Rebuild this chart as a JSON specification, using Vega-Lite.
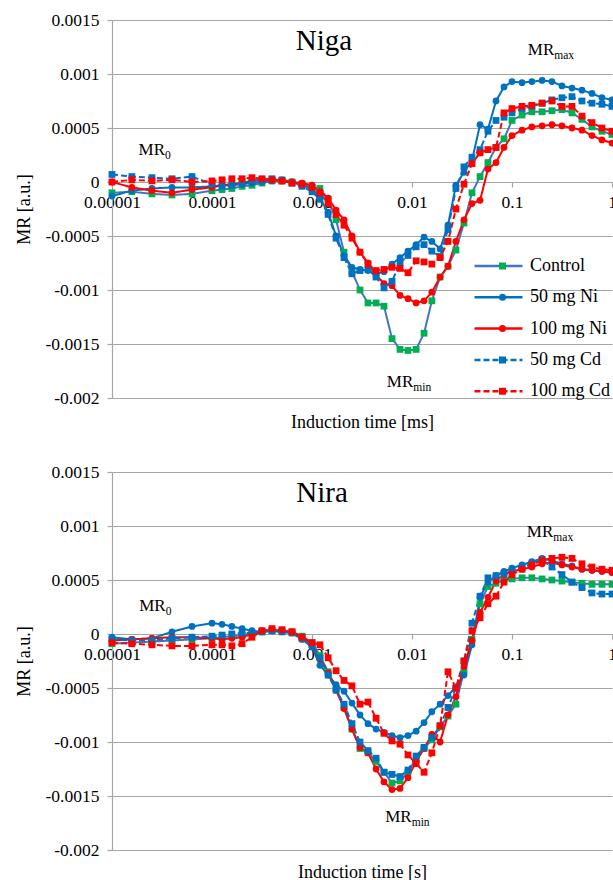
{
  "$schema": "https://vega.github.io/schema/vega-lite/v6.json",
  "background": "white",
  "padding": {"left": 15, "top": 11, "right": 0, "bottom": 0},
  "config": {
    "font": "Liberation Serif",
    "view": {"stroke": null},
    "axis": {
      "labelFont": "Liberation Serif", "labelFontSize": 17.5, "labelColor": "#000000",
      "titleFont": "Liberation Serif", "titleFontSize": 18, "titleFontWeight": "normal", "titleColor": "#000000",
      "domainColor": "#a6a6a6", "domainWidth": 1.2, "tickColor": "#a6a6a6", "tickWidth": 1.2, "tickSize": 5,
      "gridColor": "#a6a6a6", "gridWidth": 1.2, "labelFlush": false, "labelOverlap": false
    },
    "legend": {"labelFont": "Liberation Serif"}
  },
  "datasets": {
    "niga": [
      {"series":"Control","time":0.00001,"mr":-0.0001},{"series":"Control","time":0.0000158,"mr":-0.00009},{"series":"Control","time":0.0000251,"mr":-0.00011},{"series":"Control","time":0.0000398,"mr":-0.00012},{"series":"Control","time":0.0000631,"mr":-0.00011},{"series":"Control","time":0.0001,"mr":-0.00008},{"series":"Control","time":0.000126,"mr":-0.00007},{"series":"Control","time":0.000158,"mr":-0.00006},{"series":"Control","time":0.0002,"mr":-0.00004},{"series":"Control","time":0.000251,"mr":-0.00003},{"series":"Control","time":0.000316,"mr":-0.00001},{"series":"Control","time":0.000398,"mr":0.00001},{"series":"Control","time":0.000501,"mr":0.00002},{"series":"Control","time":0.000631,"mr":0},{"series":"Control","time":0.000794,"mr":-0.00002},{"series":"Control","time":0.001,"mr":-0.00005},{"series":"Control","time":0.0012,"mr":-0.00006},{"series":"Control","time":0.00145,"mr":-0.00016},{"series":"Control","time":0.00174,"mr":-0.00035},{"series":"Control","time":0.00209,"mr":-0.00065},{"series":"Control","time":0.00251,"mr":-0.00083},{"series":"Control","time":0.00302,"mr":-0.001},{"series":"Control","time":0.00363,"mr":-0.00112},{"series":"Control","time":0.00437,"mr":-0.00112},{"series":"Control","time":0.00525,"mr":-0.00115},{"series":"Control","time":0.00631,"mr":-0.00145},{"series":"Control","time":0.00759,"mr":-0.00155},{"series":"Control","time":0.00912,"mr":-0.00156},{"series":"Control","time":0.011,"mr":-0.00155},{"series":"Control","time":0.0132,"mr":-0.0014},{"series":"Control","time":0.0158,"mr":-0.0011},{"series":"Control","time":0.0191,"mr":-0.00088},{"series":"Control","time":0.0229,"mr":-0.00078},{"series":"Control","time":0.0275,"mr":-0.00063},{"series":"Control","time":0.0331,"mr":-0.00038},{"series":"Control","time":0.0398,"mr":-0.0001},{"series":"Control","time":0.0479,"mr":0.00005},{"series":"Control","time":0.0575,"mr":0.00018},{"series":"Control","time":0.0692,"mr":0.00032},{"series":"Control","time":0.0832,"mr":0.0004},{"series":"Control","time":0.1,"mr":0.00057},{"series":"Control","time":0.126,"mr":0.00062},{"series":"Control","time":0.158,"mr":0.00065},{"series":"Control","time":0.2,"mr":0.00065},{"series":"Control","time":0.251,"mr":0.00066},{"series":"Control","time":0.316,"mr":0.00067},{"series":"Control","time":0.398,"mr":0.00064},{"series":"Control","time":0.501,"mr":0.00058},{"series":"Control","time":0.631,"mr":0.00051},{"series":"Control","time":0.794,"mr":0.00047},{"series":"Control","time":1,"mr":0.00044},
      {"series":"50 mg Ni","time":0.00001,"mr":-0.00013},{"series":"50 mg Ni","time":0.0000158,"mr":-0.00008},{"series":"50 mg Ni","time":0.0000251,"mr":-0.00006},{"series":"50 mg Ni","time":0.0000398,"mr":-0.00005},{"series":"50 mg Ni","time":0.0000631,"mr":-0.00005},{"series":"50 mg Ni","time":0.0001,"mr":-0.00004},{"series":"50 mg Ni","time":0.000126,"mr":-0.00003},{"series":"50 mg Ni","time":0.000158,"mr":-0.00003},{"series":"50 mg Ni","time":0.0002,"mr":-0.00002},{"series":"50 mg Ni","time":0.000251,"mr":-0.00001},{"series":"50 mg Ni","time":0.000316,"mr":0},{"series":"50 mg Ni","time":0.000398,"mr":0.00001},{"series":"50 mg Ni","time":0.000501,"mr":0.00002},{"series":"50 mg Ni","time":0.000631,"mr":0},{"series":"50 mg Ni","time":0.000794,"mr":-0.00003},{"series":"50 mg Ni","time":0.001,"mr":-0.00006},{"series":"50 mg Ni","time":0.0012,"mr":-0.00015},{"series":"50 mg Ni","time":0.00145,"mr":-0.00028},{"series":"50 mg Ni","time":0.00174,"mr":-0.0005},{"series":"50 mg Ni","time":0.00209,"mr":-0.00068},{"series":"50 mg Ni","time":0.00251,"mr":-0.00079},{"series":"50 mg Ni","time":0.00302,"mr":-0.00081},{"series":"50 mg Ni","time":0.00363,"mr":-0.00082},{"series":"50 mg Ni","time":0.00437,"mr":-0.00085},{"series":"50 mg Ni","time":0.00525,"mr":-0.00083},{"series":"50 mg Ni","time":0.00631,"mr":-0.00076},{"series":"50 mg Ni","time":0.00759,"mr":-0.0007},{"series":"50 mg Ni","time":0.00912,"mr":-0.00064},{"series":"50 mg Ni","time":0.011,"mr":-0.00058},{"series":"50 mg Ni","time":0.0132,"mr":-0.00051},{"series":"50 mg Ni","time":0.0158,"mr":-0.00055},{"series":"50 mg Ni","time":0.0191,"mr":-0.00062},{"series":"50 mg Ni","time":0.0229,"mr":-0.0004},{"series":"50 mg Ni","time":0.0275,"mr":-0.00003},{"series":"50 mg Ni","time":0.0331,"mr":0.00009},{"series":"50 mg Ni","time":0.0398,"mr":0.0002},{"series":"50 mg Ni","time":0.0479,"mr":0.00053},{"series":"50 mg Ni","time":0.0575,"mr":0.00049},{"series":"50 mg Ni","time":0.0692,"mr":0.00075},{"series":"50 mg Ni","time":0.0832,"mr":0.00088},{"series":"50 mg Ni","time":0.1,"mr":0.00093},{"series":"50 mg Ni","time":0.126,"mr":0.00092},{"series":"50 mg Ni","time":0.158,"mr":0.00093},{"series":"50 mg Ni","time":0.2,"mr":0.00094},{"series":"50 mg Ni","time":0.251,"mr":0.00093},{"series":"50 mg Ni","time":0.316,"mr":0.00089},{"series":"50 mg Ni","time":0.398,"mr":0.00087},{"series":"50 mg Ni","time":0.501,"mr":0.00085},{"series":"50 mg Ni","time":0.631,"mr":0.00082},{"series":"50 mg Ni","time":0.794,"mr":0.00078},{"series":"50 mg Ni","time":1,"mr":0.00076},
      {"series":"100 mg Ni","time":0.00001,"mr":0},{"series":"100 mg Ni","time":0.0000158,"mr":-0.00005},{"series":"100 mg Ni","time":0.0000251,"mr":-0.00008},{"series":"100 mg Ni","time":0.0000398,"mr":-0.0001},{"series":"100 mg Ni","time":0.0000631,"mr":-0.00007},{"series":"100 mg Ni","time":0.0001,"mr":-0.00005},{"series":"100 mg Ni","time":0.000126,"mr":-0.00003},{"series":"100 mg Ni","time":0.000158,"mr":-0.00002},{"series":"100 mg Ni","time":0.0002,"mr":-0.00001},{"series":"100 mg Ni","time":0.000251,"mr":0.00001},{"series":"100 mg Ni","time":0.000316,"mr":0.00002},{"series":"100 mg Ni","time":0.000398,"mr":0.00002},{"series":"100 mg Ni","time":0.000501,"mr":0.00001},{"series":"100 mg Ni","time":0.000631,"mr":0},{"series":"100 mg Ni","time":0.000794,"mr":-0.00001},{"series":"100 mg Ni","time":0.001,"mr":-0.00003},{"series":"100 mg Ni","time":0.0012,"mr":-0.00009},{"series":"100 mg Ni","time":0.00145,"mr":-0.00015},{"series":"100 mg Ni","time":0.00174,"mr":-0.00026},{"series":"100 mg Ni","time":0.00209,"mr":-0.00035},{"series":"100 mg Ni","time":0.00251,"mr":-0.0005},{"series":"100 mg Ni","time":0.00302,"mr":-0.00065},{"series":"100 mg Ni","time":0.00363,"mr":-0.00075},{"series":"100 mg Ni","time":0.00437,"mr":-0.00086},{"series":"100 mg Ni","time":0.00525,"mr":-0.00094},{"series":"100 mg Ni","time":0.00631,"mr":-0.00096},{"series":"100 mg Ni","time":0.00759,"mr":-0.00105},{"series":"100 mg Ni","time":0.00912,"mr":-0.00108},{"series":"100 mg Ni","time":0.011,"mr":-0.00112},{"series":"100 mg Ni","time":0.0132,"mr":-0.0011},{"series":"100 mg Ni","time":0.0158,"mr":-0.00102},{"series":"100 mg Ni","time":0.0191,"mr":-0.00088},{"series":"100 mg Ni","time":0.0229,"mr":-0.00078},{"series":"100 mg Ni","time":0.0275,"mr":-0.00055},{"series":"100 mg Ni","time":0.0331,"mr":-0.00035},{"series":"100 mg Ni","time":0.0398,"mr":-0.0002},{"series":"100 mg Ni","time":0.0479,"mr":-0.00017},{"series":"100 mg Ni","time":0.0575,"mr":0.00012},{"series":"100 mg Ni","time":0.0692,"mr":0.00018},{"series":"100 mg Ni","time":0.0832,"mr":0.00032},{"series":"100 mg Ni","time":0.1,"mr":0.00043},{"series":"100 mg Ni","time":0.126,"mr":0.00048},{"series":"100 mg Ni","time":0.158,"mr":0.00051},{"series":"100 mg Ni","time":0.2,"mr":0.00052},{"series":"100 mg Ni","time":0.251,"mr":0.00053},{"series":"100 mg Ni","time":0.316,"mr":0.00052},{"series":"100 mg Ni","time":0.398,"mr":0.0005},{"series":"100 mg Ni","time":0.501,"mr":0.00048},{"series":"100 mg Ni","time":0.631,"mr":0.00043},{"series":"100 mg Ni","time":0.794,"mr":0.00039},{"series":"100 mg Ni","time":1,"mr":0.00036},
      {"series":"50 mg Cd","time":0.00001,"mr":0.00007},{"series":"50 mg Cd","time":0.0000158,"mr":0.00005},{"series":"50 mg Cd","time":0.0000251,"mr":0.00004},{"series":"50 mg Cd","time":0.0000398,"mr":0.00003},{"series":"50 mg Cd","time":0.0000631,"mr":0.00005},{"series":"50 mg Cd","time":0.0001,"mr":-0.00002},{"series":"50 mg Cd","time":0.000126,"mr":-0.00004},{"series":"50 mg Cd","time":0.000158,"mr":-0.00003},{"series":"50 mg Cd","time":0.0002,"mr":-0.00001},{"series":"50 mg Cd","time":0.000251,"mr":0.00001},{"series":"50 mg Cd","time":0.000316,"mr":0.00002},{"series":"50 mg Cd","time":0.000398,"mr":0.00003},{"series":"50 mg Cd","time":0.000501,"mr":0.00001},{"series":"50 mg Cd","time":0.000631,"mr":-0.00001},{"series":"50 mg Cd","time":0.000794,"mr":-0.00004},{"series":"50 mg Cd","time":0.001,"mr":-0.00009},{"series":"50 mg Cd","time":0.0012,"mr":-0.00016},{"series":"50 mg Cd","time":0.00145,"mr":-0.0003},{"series":"50 mg Cd","time":0.00174,"mr":-0.00052},{"series":"50 mg Cd","time":0.00209,"mr":-0.0007},{"series":"50 mg Cd","time":0.00251,"mr":-0.00085},{"series":"50 mg Cd","time":0.00302,"mr":-0.00082},{"series":"50 mg Cd","time":0.00363,"mr":-0.00081},{"series":"50 mg Cd","time":0.00437,"mr":-0.00088},{"series":"50 mg Cd","time":0.00525,"mr":-0.00098},{"series":"50 mg Cd","time":0.00631,"mr":-0.00092},{"series":"50 mg Cd","time":0.00759,"mr":-0.00075},{"series":"50 mg Cd","time":0.00912,"mr":-0.00068},{"series":"50 mg Cd","time":0.011,"mr":-0.0006},{"series":"50 mg Cd","time":0.0132,"mr":-0.00058},{"series":"50 mg Cd","time":0.0158,"mr":-0.00064},{"series":"50 mg Cd","time":0.0191,"mr":-0.00069},{"series":"50 mg Cd","time":0.0229,"mr":-0.00044},{"series":"50 mg Cd","time":0.0275,"mr":-0.00006},{"series":"50 mg Cd","time":0.0331,"mr":0.00014},{"series":"50 mg Cd","time":0.0398,"mr":0.00023},{"series":"50 mg Cd","time":0.0479,"mr":0.0003},{"series":"50 mg Cd","time":0.0575,"mr":0.00047},{"series":"50 mg Cd","time":0.0692,"mr":0.00057},{"series":"50 mg Cd","time":0.0832,"mr":0.0006},{"series":"50 mg Cd","time":0.1,"mr":0.00064},{"series":"50 mg Cd","time":0.126,"mr":0.00068},{"series":"50 mg Cd","time":0.158,"mr":0.0007},{"series":"50 mg Cd","time":0.2,"mr":0.00073},{"series":"50 mg Cd","time":0.251,"mr":0.00076},{"series":"50 mg Cd","time":0.316,"mr":0.00078},{"series":"50 mg Cd","time":0.398,"mr":0.00079},{"series":"50 mg Cd","time":0.501,"mr":0.00075},{"series":"50 mg Cd","time":0.631,"mr":0.00073},{"series":"50 mg Cd","time":0.794,"mr":0.00072},{"series":"50 mg Cd","time":1,"mr":0.0007},
      {"series":"100 mg Cd","time":0.00001,"mr":0},{"series":"100 mg Cd","time":0.0000158,"mr":0.00002},{"series":"100 mg Cd","time":0.0000251,"mr":0.00001},{"series":"100 mg Cd","time":0.0000398,"mr":0.00002},{"series":"100 mg Cd","time":0.0000631,"mr":0},{"series":"100 mg Cd","time":0.0001,"mr":0.00001},{"series":"100 mg Cd","time":0.000126,"mr":0.00002},{"series":"100 mg Cd","time":0.000158,"mr":0.00003},{"series":"100 mg Cd","time":0.0002,"mr":0.00003},{"series":"100 mg Cd","time":0.000251,"mr":0.00004},{"series":"100 mg Cd","time":0.000316,"mr":0.00003},{"series":"100 mg Cd","time":0.000398,"mr":0.00002},{"series":"100 mg Cd","time":0.000501,"mr":0.00001},{"series":"100 mg Cd","time":0.000631,"mr":-0.00001},{"series":"100 mg Cd","time":0.000794,"mr":-0.00002},{"series":"100 mg Cd","time":0.001,"mr":-0.00005},{"series":"100 mg Cd","time":0.0012,"mr":-0.0001},{"series":"100 mg Cd","time":0.00145,"mr":-0.0002},{"series":"100 mg Cd","time":0.00174,"mr":-0.0003},{"series":"100 mg Cd","time":0.00209,"mr":-0.0004},{"series":"100 mg Cd","time":0.00251,"mr":-0.00052},{"series":"100 mg Cd","time":0.00302,"mr":-0.00065},{"series":"100 mg Cd","time":0.00363,"mr":-0.00076},{"series":"100 mg Cd","time":0.00437,"mr":-0.00082},{"series":"100 mg Cd","time":0.00525,"mr":-0.00081},{"series":"100 mg Cd","time":0.00631,"mr":-0.00079},{"series":"100 mg Cd","time":0.00759,"mr":-0.0008},{"series":"100 mg Cd","time":0.00912,"mr":-0.00084},{"series":"100 mg Cd","time":0.011,"mr":-0.00073},{"series":"100 mg Cd","time":0.0132,"mr":-0.00074},{"series":"100 mg Cd","time":0.0158,"mr":-0.00076},{"series":"100 mg Cd","time":0.0191,"mr":-0.0007},{"series":"100 mg Cd","time":0.0229,"mr":-0.00055},{"series":"100 mg Cd","time":0.0275,"mr":-0.00025},{"series":"100 mg Cd","time":0.0331,"mr":-0.00002},{"series":"100 mg Cd","time":0.0398,"mr":0.00017},{"series":"100 mg Cd","time":0.0479,"mr":0.00027},{"series":"100 mg Cd","time":0.0575,"mr":0.0003},{"series":"100 mg Cd","time":0.0692,"mr":0.00032},{"series":"100 mg Cd","time":0.0832,"mr":0.00064},{"series":"100 mg Cd","time":0.1,"mr":0.00068},{"series":"100 mg Cd","time":0.126,"mr":0.0007},{"series":"100 mg Cd","time":0.158,"mr":0.00071},{"series":"100 mg Cd","time":0.2,"mr":0.00073},{"series":"100 mg Cd","time":0.251,"mr":0.00075},{"series":"100 mg Cd","time":0.316,"mr":0.0007},{"series":"100 mg Cd","time":0.398,"mr":0.0007},{"series":"100 mg Cd","time":0.501,"mr":0.00061},{"series":"100 mg Cd","time":0.631,"mr":0.00055},{"series":"100 mg Cd","time":0.794,"mr":0.0005},{"series":"100 mg Cd","time":1,"mr":0.00047}
    ],
    "nira": [
      {"series":"Control","time":0.00001,"mr":-0.00009},{"series":"Control","time":0.0000158,"mr":-0.00008},{"series":"Control","time":0.0000251,"mr":-0.00007},{"series":"Control","time":0.0000398,"mr":-0.00006},{"series":"Control","time":0.0000631,"mr":-0.00005},{"series":"Control","time":0.0001,"mr":-0.00004},{"series":"Control","time":0.000126,"mr":-0.00003},{"series":"Control","time":0.000158,"mr":-0.00002},{"series":"Control","time":0.0002,"mr":-0.00001},{"series":"Control","time":0.000251,"mr":0},{"series":"Control","time":0.000316,"mr":0.00002},{"series":"Control","time":0.000398,"mr":0.00003},{"series":"Control","time":0.000501,"mr":0.00003},{"series":"Control","time":0.000631,"mr":0.00002},{"series":"Control","time":0.000794,"mr":-0.00002},{"series":"Control","time":0.001,"mr":-0.00008},{"series":"Control","time":0.0012,"mr":-0.0002},{"series":"Control","time":0.00145,"mr":-0.00035},{"series":"Control","time":0.00174,"mr":-0.0005},{"series":"Control","time":0.00209,"mr":-0.00068},{"series":"Control","time":0.00251,"mr":-0.00088},{"series":"Control","time":0.00302,"mr":-0.00106},{"series":"Control","time":0.00363,"mr":-0.0011},{"series":"Control","time":0.00437,"mr":-0.00118},{"series":"Control","time":0.00525,"mr":-0.00128},{"series":"Control","time":0.00631,"mr":-0.00138},{"series":"Control","time":0.00759,"mr":-0.00136},{"series":"Control","time":0.00912,"mr":-0.00128},{"series":"Control","time":0.011,"mr":-0.00115},{"series":"Control","time":0.0132,"mr":-0.00106},{"series":"Control","time":0.0158,"mr":-0.00098},{"series":"Control","time":0.0191,"mr":-0.00086},{"series":"Control","time":0.0229,"mr":-0.00076},{"series":"Control","time":0.0275,"mr":-0.00065},{"series":"Control","time":0.0331,"mr":-0.00034},{"series":"Control","time":0.0398,"mr":-0.00005},{"series":"Control","time":0.0479,"mr":0.00028},{"series":"Control","time":0.0575,"mr":0.00044},{"series":"Control","time":0.0692,"mr":0.00047},{"series":"Control","time":0.0832,"mr":0.0005},{"series":"Control","time":0.1,"mr":0.00051},{"series":"Control","time":0.126,"mr":0.00052},{"series":"Control","time":0.158,"mr":0.00052},{"series":"Control","time":0.2,"mr":0.00051},{"series":"Control","time":0.251,"mr":0.0005},{"series":"Control","time":0.316,"mr":0.00049},{"series":"Control","time":0.398,"mr":0.00048},{"series":"Control","time":0.501,"mr":0.00047},{"series":"Control","time":0.631,"mr":0.00046},{"series":"Control","time":0.794,"mr":0.00046},{"series":"Control","time":1,"mr":0.00046},
      {"series":"50 mg Ni","time":0.00001,"mr":-0.00003},{"series":"50 mg Ni","time":0.0000158,"mr":-0.00005},{"series":"50 mg Ni","time":0.0000251,"mr":-0.00004},{"series":"50 mg Ni","time":0.0000398,"mr":0.00002},{"series":"50 mg Ni","time":0.0000631,"mr":0.00007},{"series":"50 mg Ni","time":0.0001,"mr":0.0001},{"series":"50 mg Ni","time":0.000126,"mr":0.00009},{"series":"50 mg Ni","time":0.000158,"mr":0.00007},{"series":"50 mg Ni","time":0.0002,"mr":0.00005},{"series":"50 mg Ni","time":0.000251,"mr":0.00003},{"series":"50 mg Ni","time":0.000316,"mr":0.00002},{"series":"50 mg Ni","time":0.000398,"mr":0.00003},{"series":"50 mg Ni","time":0.000501,"mr":0.00002},{"series":"50 mg Ni","time":0.000631,"mr":0.00001},{"series":"50 mg Ni","time":0.000794,"mr":-0.00005},{"series":"50 mg Ni","time":0.001,"mr":-0.00012},{"series":"50 mg Ni","time":0.0012,"mr":-0.00029},{"series":"50 mg Ni","time":0.00145,"mr":-0.00038},{"series":"50 mg Ni","time":0.00174,"mr":-0.00047},{"series":"50 mg Ni","time":0.00209,"mr":-0.00053},{"series":"50 mg Ni","time":0.00251,"mr":-0.00064},{"series":"50 mg Ni","time":0.00302,"mr":-0.00075},{"series":"50 mg Ni","time":0.00363,"mr":-0.00083},{"series":"50 mg Ni","time":0.00437,"mr":-0.00088},{"series":"50 mg Ni","time":0.00525,"mr":-0.00091},{"series":"50 mg Ni","time":0.00631,"mr":-0.00094},{"series":"50 mg Ni","time":0.00759,"mr":-0.00096},{"series":"50 mg Ni","time":0.00912,"mr":-0.00094},{"series":"50 mg Ni","time":0.011,"mr":-0.0009},{"series":"50 mg Ni","time":0.0132,"mr":-0.00082},{"series":"50 mg Ni","time":0.0158,"mr":-0.00072},{"series":"50 mg Ni","time":0.0191,"mr":-0.00065},{"series":"50 mg Ni","time":0.0229,"mr":-0.00057},{"series":"50 mg Ni","time":0.0275,"mr":-0.00049},{"series":"50 mg Ni","time":0.0331,"mr":-0.00038},{"series":"50 mg Ni","time":0.0398,"mr":-0.0001},{"series":"50 mg Ni","time":0.0479,"mr":0.00034},{"series":"50 mg Ni","time":0.0575,"mr":0.00048},{"series":"50 mg Ni","time":0.0692,"mr":0.00054},{"series":"50 mg Ni","time":0.0832,"mr":0.00058},{"series":"50 mg Ni","time":0.1,"mr":0.00061},{"series":"50 mg Ni","time":0.126,"mr":0.00064},{"series":"50 mg Ni","time":0.158,"mr":0.00067},{"series":"50 mg Ni","time":0.2,"mr":0.0007},{"series":"50 mg Ni","time":0.251,"mr":0.00068},{"series":"50 mg Ni","time":0.316,"mr":0.00065},{"series":"50 mg Ni","time":0.398,"mr":0.00063},{"series":"50 mg Ni","time":0.501,"mr":0.0006},{"series":"50 mg Ni","time":0.631,"mr":0.00059},{"series":"50 mg Ni","time":0.794,"mr":0.00058},{"series":"50 mg Ni","time":1,"mr":0.00057},
      {"series":"100 mg Ni","time":0.00001,"mr":-0.00006},{"series":"100 mg Ni","time":0.0000158,"mr":-0.00005},{"series":"100 mg Ni","time":0.0000251,"mr":-0.00004},{"series":"100 mg Ni","time":0.0000398,"mr":-0.00003},{"series":"100 mg Ni","time":0.0000631,"mr":-0.00003},{"series":"100 mg Ni","time":0.0001,"mr":-0.00004},{"series":"100 mg Ni","time":0.000126,"mr":-0.00005},{"series":"100 mg Ni","time":0.000158,"mr":-0.00004},{"series":"100 mg Ni","time":0.0002,"mr":-0.00003},{"series":"100 mg Ni","time":0.000251,"mr":0},{"series":"100 mg Ni","time":0.000316,"mr":0.00003},{"series":"100 mg Ni","time":0.000398,"mr":0.00004},{"series":"100 mg Ni","time":0.000501,"mr":0.00003},{"series":"100 mg Ni","time":0.000631,"mr":0.00002},{"series":"100 mg Ni","time":0.000794,"mr":-0.00003},{"series":"100 mg Ni","time":0.001,"mr":-0.0001},{"series":"100 mg Ni","time":0.0012,"mr":-0.00023},{"series":"100 mg Ni","time":0.00145,"mr":-0.00036},{"series":"100 mg Ni","time":0.00174,"mr":-0.00052},{"series":"100 mg Ni","time":0.00209,"mr":-0.00069},{"series":"100 mg Ni","time":0.00251,"mr":-0.00088},{"series":"100 mg Ni","time":0.00302,"mr":-0.00105},{"series":"100 mg Ni","time":0.00363,"mr":-0.0011},{"series":"100 mg Ni","time":0.00437,"mr":-0.00125},{"series":"100 mg Ni","time":0.00525,"mr":-0.00137},{"series":"100 mg Ni","time":0.00631,"mr":-0.00144},{"series":"100 mg Ni","time":0.00759,"mr":-0.00143},{"series":"100 mg Ni","time":0.00912,"mr":-0.00133},{"series":"100 mg Ni","time":0.011,"mr":-0.00118},{"series":"100 mg Ni","time":0.0132,"mr":-0.00106},{"series":"100 mg Ni","time":0.0158,"mr":-0.00093},{"series":"100 mg Ni","time":0.0191,"mr":-0.001},{"series":"100 mg Ni","time":0.0229,"mr":-0.00075},{"series":"100 mg Ni","time":0.0275,"mr":-0.00058},{"series":"100 mg Ni","time":0.0331,"mr":-0.0003},{"series":"100 mg Ni","time":0.0398,"mr":-0.00006},{"series":"100 mg Ni","time":0.0479,"mr":0.0002},{"series":"100 mg Ni","time":0.0575,"mr":0.00034},{"series":"100 mg Ni","time":0.0692,"mr":0.00049},{"series":"100 mg Ni","time":0.0832,"mr":0.00055},{"series":"100 mg Ni","time":0.1,"mr":0.00058},{"series":"100 mg Ni","time":0.126,"mr":0.0006},{"series":"100 mg Ni","time":0.158,"mr":0.00062},{"series":"100 mg Ni","time":0.2,"mr":0.00065},{"series":"100 mg Ni","time":0.251,"mr":0.00066},{"series":"100 mg Ni","time":0.316,"mr":0.00064},{"series":"100 mg Ni","time":0.398,"mr":0.00062},{"series":"100 mg Ni","time":0.501,"mr":0.0006},{"series":"100 mg Ni","time":0.631,"mr":0.00059},{"series":"100 mg Ni","time":0.794,"mr":0.00058},{"series":"100 mg Ni","time":1,"mr":0.00057},
      {"series":"50 mg Cd","time":0.00001,"mr":-0.00005},{"series":"50 mg Cd","time":0.0000158,"mr":-0.00006},{"series":"50 mg Cd","time":0.0000251,"mr":-0.00006},{"series":"50 mg Cd","time":0.0000398,"mr":-0.00004},{"series":"50 mg Cd","time":0.0000631,"mr":-0.00003},{"series":"50 mg Cd","time":0.0001,"mr":-0.00002},{"series":"50 mg Cd","time":0.000126,"mr":-0.00001},{"series":"50 mg Cd","time":0.000158,"mr":0},{"series":"50 mg Cd","time":0.0002,"mr":0.00001},{"series":"50 mg Cd","time":0.000251,"mr":0.00001},{"series":"50 mg Cd","time":0.000316,"mr":0.00002},{"series":"50 mg Cd","time":0.000398,"mr":0.00003},{"series":"50 mg Cd","time":0.000501,"mr":0.00002},{"series":"50 mg Cd","time":0.000631,"mr":0.00001},{"series":"50 mg Cd","time":0.000794,"mr":-0.00004},{"series":"50 mg Cd","time":0.001,"mr":-0.0001},{"series":"50 mg Cd","time":0.0012,"mr":-0.00022},{"series":"50 mg Cd","time":0.00145,"mr":-0.00038},{"series":"50 mg Cd","time":0.00174,"mr":-0.00052},{"series":"50 mg Cd","time":0.00209,"mr":-0.00065},{"series":"50 mg Cd","time":0.00251,"mr":-0.00083},{"series":"50 mg Cd","time":0.00302,"mr":-0.001},{"series":"50 mg Cd","time":0.00363,"mr":-0.00108},{"series":"50 mg Cd","time":0.00437,"mr":-0.00115},{"series":"50 mg Cd","time":0.00525,"mr":-0.00128},{"series":"50 mg Cd","time":0.00631,"mr":-0.0013},{"series":"50 mg Cd","time":0.00759,"mr":-0.00132},{"series":"50 mg Cd","time":0.00912,"mr":-0.00126},{"series":"50 mg Cd","time":0.011,"mr":-0.00113},{"series":"50 mg Cd","time":0.0132,"mr":-0.00105},{"series":"50 mg Cd","time":0.0158,"mr":-0.00096},{"series":"50 mg Cd","time":0.0191,"mr":-0.00085},{"series":"50 mg Cd","time":0.0229,"mr":-0.00068},{"series":"50 mg Cd","time":0.0275,"mr":-0.0005},{"series":"50 mg Cd","time":0.0331,"mr":-0.00025},{"series":"50 mg Cd","time":0.0398,"mr":0.0001},{"series":"50 mg Cd","time":0.0479,"mr":0.00035},{"series":"50 mg Cd","time":0.0575,"mr":0.00052},{"series":"50 mg Cd","time":0.0692,"mr":0.00054},{"series":"50 mg Cd","time":0.0832,"mr":0.00056},{"series":"50 mg Cd","time":0.1,"mr":0.00059},{"series":"50 mg Cd","time":0.126,"mr":0.00062},{"series":"50 mg Cd","time":0.158,"mr":0.00065},{"series":"50 mg Cd","time":0.2,"mr":0.00069},{"series":"50 mg Cd","time":0.251,"mr":0.00062},{"series":"50 mg Cd","time":0.316,"mr":0.00055},{"series":"50 mg Cd","time":0.398,"mr":0.00048},{"series":"50 mg Cd","time":0.501,"mr":0.00043},{"series":"50 mg Cd","time":0.631,"mr":0.00038},{"series":"50 mg Cd","time":0.794,"mr":0.00037},{"series":"50 mg Cd","time":1,"mr":0.00037},
      {"series":"100 mg Cd","time":0.00001,"mr":-0.00008},{"series":"100 mg Cd","time":0.0000158,"mr":-0.00009},{"series":"100 mg Cd","time":0.0000251,"mr":-0.0001},{"series":"100 mg Cd","time":0.0000398,"mr":-0.00011},{"series":"100 mg Cd","time":0.0000631,"mr":-0.00011},{"series":"100 mg Cd","time":0.0001,"mr":-0.0001},{"series":"100 mg Cd","time":0.000126,"mr":-0.0001},{"series":"100 mg Cd","time":0.000158,"mr":-0.00011},{"series":"100 mg Cd","time":0.0002,"mr":-0.00009},{"series":"100 mg Cd","time":0.000251,"mr":-0.00003},{"series":"100 mg Cd","time":0.000316,"mr":0.00003},{"series":"100 mg Cd","time":0.000398,"mr":0.00005},{"series":"100 mg Cd","time":0.000501,"mr":0.00004},{"series":"100 mg Cd","time":0.000631,"mr":0.00002},{"series":"100 mg Cd","time":0.000794,"mr":-0.00003},{"series":"100 mg Cd","time":0.001,"mr":-0.00008},{"series":"100 mg Cd","time":0.0012,"mr":-0.0001},{"series":"100 mg Cd","time":0.00145,"mr":-0.00022},{"series":"100 mg Cd","time":0.00174,"mr":-0.00034},{"series":"100 mg Cd","time":0.00209,"mr":-0.00043},{"series":"100 mg Cd","time":0.00251,"mr":-0.00048},{"series":"100 mg Cd","time":0.00302,"mr":-0.00065},{"series":"100 mg Cd","time":0.00363,"mr":-0.00063},{"series":"100 mg Cd","time":0.00437,"mr":-0.00078},{"series":"100 mg Cd","time":0.00525,"mr":-0.00092},{"series":"100 mg Cd","time":0.00631,"mr":-0.00099},{"series":"100 mg Cd","time":0.00759,"mr":-0.00102},{"series":"100 mg Cd","time":0.00912,"mr":-0.00112},{"series":"100 mg Cd","time":0.011,"mr":-0.0012},{"series":"100 mg Cd","time":0.0132,"mr":-0.00128},{"series":"100 mg Cd","time":0.0158,"mr":-0.0011},{"series":"100 mg Cd","time":0.0191,"mr":-0.00085},{"series":"100 mg Cd","time":0.0229,"mr":-0.00035},{"series":"100 mg Cd","time":0.0275,"mr":-0.0005},{"series":"100 mg Cd","time":0.0331,"mr":-0.00025},{"series":"100 mg Cd","time":0.0398,"mr":0.00003},{"series":"100 mg Cd","time":0.0479,"mr":0.00015},{"series":"100 mg Cd","time":0.0575,"mr":0.00028},{"series":"100 mg Cd","time":0.0692,"mr":0.00035},{"series":"100 mg Cd","time":0.0832,"mr":0.00048},{"series":"100 mg Cd","time":0.1,"mr":0.00055},{"series":"100 mg Cd","time":0.126,"mr":0.0006},{"series":"100 mg Cd","time":0.158,"mr":0.00064},{"series":"100 mg Cd","time":0.2,"mr":0.00068},{"series":"100 mg Cd","time":0.251,"mr":0.0007},{"series":"100 mg Cd","time":0.316,"mr":0.00071},{"series":"100 mg Cd","time":0.398,"mr":0.0007},{"series":"100 mg Cd","time":0.501,"mr":0.00065},{"series":"100 mg Cd","time":0.631,"mr":0.00062},{"series":"100 mg Cd","time":0.794,"mr":0.0006},{"series":"100 mg Cd","time":1,"mr":0.00059}
    ],
    "nigaNotes": [
      {"time":0.0000339,"mr":0.00025,"main":"MR","sub":"0"},
      {"time":0.265,"mr":0.001176,"main":"MR","sub":"max"},
      {"time":0.0103,"mr":-0.001895,"main":"MR","sub":"min"}
    ],
    "niraNotes": [
      {"time":0.0000344,"mr":0.000216,"main":"MR","sub":"0"},
      {"time":0.259,"mr":0.000894,"main":"MR","sub":"max"},
      {"time":0.00993,"mr":-0.001744,"main":"MR","sub":"min"}
    ]
  },
  "spacing": 32,
  "resolve": {
    "scale": {"stroke": "independent", "strokeDash": "independent", "fill": "independent", "shape": "independent"},
    "legend": {"stroke": "independent", "strokeDash": "independent", "fill": "independent", "shape": "independent"}
  },
  "vconcat": [
    {
      "width": 500,
      "height": 378,
      "encoding": {
        "x": {"field": "time", "type": "quantitative",
          "scale": {"type": "log", "domain": [0.00001, 1]},
          "axis": {"title": "Induction time [ms]", "titleX": 250, "titleY": 245, "titleAlign": "center", "titleBaseline": "alphabetic", "titleAngle": 0,
            "values": [0.00001, 0.0001, 0.001, 0.01, 0.1, 1], "format": ".5~f", "offset": -216, "grid": false, "labelPadding": 6, "labelFont": "Liberation Serif", "labelFontSize": 17.5, "titleFont": "Liberation Serif", "titleFontSize": 18}},
        "y": {"field": "mr", "type": "quantitative",
          "scale": {"domain": [-0.002, 0.0015], "nice": false, "zero": false},
          "axis": {"title": "MR [a.u.]", "values": [-0.002, -0.0015, -0.001, -0.0005, 0, 0.0005, 0.001, 0.0015], "format": ".4~f", "labelExpr": "replace(datum.label, '−', '-')", "grid": true, "labelPadding": 8, "titlePadding": 12, "labelFont": "Liberation Serif", "labelFontSize": 17.5, "titleFont": "Liberation Serif"}}
      },
      "layer": [
        {
          "data": {"name": "niga"},
          "mark": {"type": "line", "strokeWidth": 2},
          "encoding": {
            "stroke": {"field": "series", "type": "nominal",
              "scale": {"domain": ["Control", "50 mg Ni", "100 mg Ni", "50 mg Cd", "100 mg Cd"], "range": ["#4472c4", "#0070c0", "#ff0000", "#0070c0", "#ff0000"]},
              "legend": {"orient": "none", "legendX": 361, "legendY": 236, "title": null, "symbolType": "stroke", "symbolSize": 2304, "symbolStrokeWidth": 2.5, "labelFont": "Liberation Serif", "labelFontSize": 18, "labelColor": "#000000", "labelOffset": 6, "clipHeight": 20, "rowPadding": 11.3, "padding": 0, "labelLimit": 200}},
            "strokeDash": {"field": "series", "type": "nominal",
              "scale": {"domain": ["Control", "50 mg Ni", "100 mg Ni", "50 mg Cd", "100 mg Cd"], "range": [[1, 0], [1, 0], [1, 0], [6, 3], [6, 3]]},
              "legend": {"orient": "none", "legendX": 361, "legendY": 236, "title": null, "symbolType": "stroke", "symbolSize": 2304, "symbolStrokeWidth": 2.5, "labelFont": "Liberation Serif", "labelFontSize": 18, "labelColor": "#000000", "labelOffset": 6, "clipHeight": 20, "rowPadding": 11.3, "padding": 0, "labelLimit": 200}}
          }
        },
        {
          "data": {"name": "niga"},
          "mark": {"type": "point", "filled": true, "opacity": 1, "size": 46, "strokeWidth": 0},
          "encoding": {
            "fill": {"field": "series", "type": "nominal",
              "scale": {"domain": ["100 mg Cd", "50 mg Cd", "100 mg Ni", "50 mg Ni", "Control"], "range": ["#ff0000", "#0070c0", "#ff0000", "#0070c0", "#00b050"]},
              "legend": {"orient": "none", "legendX": 381.5, "legendY": 236, "title": null, "values": ["Control", "50 mg Ni", "100 mg Ni", "50 mg Cd", "100 mg Cd"], "symbolSize": 49, "symbolStrokeWidth": 0, "labelExpr": "''", "labelFontSize": 18, "labelOffset": 6, "clipHeight": 20, "rowPadding": 11.3, "padding": 0}},
            "shape": {"field": "series", "type": "nominal",
              "scale": {"domain": ["100 mg Cd", "50 mg Cd", "100 mg Ni", "50 mg Ni", "Control"], "range": ["square", "square", "circle", "circle", "square"]},
              "legend": {"orient": "none", "legendX": 381.5, "legendY": 236, "title": null, "values": ["Control", "50 mg Ni", "100 mg Ni", "50 mg Cd", "100 mg Cd"], "symbolSize": 49, "symbolStrokeWidth": 0, "labelExpr": "''", "labelFontSize": 18, "labelOffset": 6, "clipHeight": 20, "rowPadding": 11.3, "padding": 0}}
          }
        },
        {
          "data": {"values": [{"time": 0.00132, "mr": 0.001222, "name": "Niga"}]},
          "mark": {"type": "text", "font": "Liberation Serif", "fontSize": 29, "align": "center", "baseline": "alphabetic", "color": "#000000"},
          "encoding": {"text": {"field": "name"}}
        },
        {
          "data": {"name": "nigaNotes"},
          "mark": {"type": "text", "font": "Liberation Serif", "fontSize": 17, "align": "right", "baseline": "alphabetic", "color": "#000000"},
          "encoding": {"text": {"field": "main"}}
        },
        {
          "data": {"name": "nigaNotes"},
          "mark": {"type": "text", "font": "Liberation Serif", "fontSize": 11.5, "align": "left", "baseline": "alphabetic", "dy": 4, "color": "#000000"},
          "encoding": {"text": {"field": "sub"}}
        }
      ]
    },
    {
      "width": 500,
      "height": 378,
      "encoding": {
        "x": {"field": "time", "type": "quantitative",
          "scale": {"type": "log", "domain": [0.00001, 1]},
          "axis": {"title": "Induction time [s]", "titleX": 250, "titleY": 243, "titleAlign": "center", "titleBaseline": "alphabetic", "titleAngle": 0,
            "values": [0.00001, 0.0001, 0.001, 0.01, 0.1, 1], "format": ".5~f", "offset": -216, "grid": false, "labelPadding": 6, "labelFont": "Liberation Serif", "labelFontSize": 17.5, "titleFont": "Liberation Serif", "titleFontSize": 18}},
        "y": {"field": "mr", "type": "quantitative",
          "scale": {"domain": [-0.002, 0.0015], "nice": false, "zero": false},
          "axis": {"title": "MR [a.u.]", "values": [-0.002, -0.0015, -0.001, -0.0005, 0, 0.0005, 0.001, 0.0015], "format": ".4~f", "labelExpr": "replace(datum.label, '−', '-')", "grid": true, "labelPadding": 8, "titlePadding": 12, "labelFont": "Liberation Serif", "labelFontSize": 17.5, "titleFont": "Liberation Serif"}}
      },
      "layer": [
        {
          "data": {"name": "nira"},
          "mark": {"type": "line", "strokeWidth": 2},
          "encoding": {
            "stroke": {"field": "series", "type": "nominal",
              "scale": {"domain": ["Control", "50 mg Ni", "100 mg Ni", "50 mg Cd", "100 mg Cd"], "range": ["#4472c4", "#0070c0", "#ff0000", "#0070c0", "#ff0000"]},
              "legend": null},
            "strokeDash": {"field": "series", "type": "nominal",
              "scale": {"domain": ["Control", "50 mg Ni", "100 mg Ni", "50 mg Cd", "100 mg Cd"], "range": [[1, 0], [1, 0], [1, 0], [6, 3], [6, 3]]},
              "legend": null}
          }
        },
        {
          "data": {"name": "nira"},
          "mark": {"type": "point", "filled": true, "opacity": 1, "size": 46, "strokeWidth": 0},
          "encoding": {
            "fill": {"field": "series", "type": "nominal",
              "scale": {"domain": ["100 mg Cd", "50 mg Cd", "100 mg Ni", "50 mg Ni", "Control"], "range": ["#ff0000", "#0070c0", "#ff0000", "#0070c0", "#00b050"]},
              "legend": null},
            "shape": {"field": "series", "type": "nominal",
              "scale": {"domain": ["100 mg Cd", "50 mg Cd", "100 mg Ni", "50 mg Ni", "Control"], "range": ["square", "square", "circle", "circle", "square"]},
              "legend": null}
          }
        },
        {
          "data": {"values": [{"time": 0.00126, "mr": 0.001219, "name": "Nira"}]},
          "mark": {"type": "text", "font": "Liberation Serif", "fontSize": 29, "align": "center", "baseline": "alphabetic", "color": "#000000"},
          "encoding": {"text": {"field": "name"}}
        },
        {
          "data": {"name": "niraNotes"},
          "mark": {"type": "text", "font": "Liberation Serif", "fontSize": 17, "align": "right", "baseline": "alphabetic", "color": "#000000"},
          "encoding": {"text": {"field": "main"}}
        },
        {
          "data": {"name": "niraNotes"},
          "mark": {"type": "text", "font": "Liberation Serif", "fontSize": 11.5, "align": "left", "baseline": "alphabetic", "dy": 4, "color": "#000000"},
          "encoding": {"text": {"field": "sub"}}
        }
      ]
    }
  ]
}
